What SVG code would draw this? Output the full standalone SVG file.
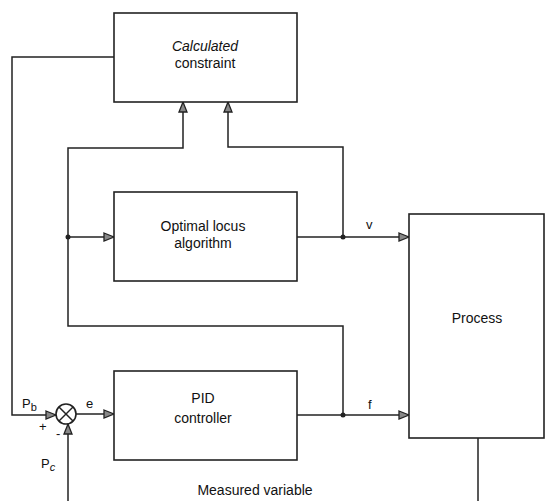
<svg xmlns="http://www.w3.org/2000/svg" width="545" height="501" viewBox="0 0 545 501">
<defs>
<marker id="arr" viewBox="0 0 12 10" refX="11" refY="5" markerWidth="12" markerHeight="10" markerUnits="userSpaceOnUse" orient="auto">
<path d="M1,1 L11,5 L1,9 Z" fill="#888" stroke="#222" stroke-width="1.3" stroke-linejoin="miter"/>
</marker>
</defs>
<style>
.box{fill:#fff;stroke:#222;stroke-width:1.6}
.ln{fill:none;stroke:#222;stroke-width:1.5}
.t{font-family:"Liberation Sans",Arial,sans-serif;font-size:14px;fill:#111;text-anchor:middle}
.s{font-family:"Liberation Sans",Arial,sans-serif;font-size:13px;fill:#111}
.dot{fill:#222}
</style>
<rect width="545" height="501" fill="#fff"/>
<g id="connectors">
<polyline class="ln" points="114,57 12,57 12,415 56,415" marker-end="url(#arr)"/>
<line class="ln" x1="76" y1="414" x2="114" y2="414" marker-end="url(#arr)"/>
<line class="ln" x1="68" y1="501" x2="68" y2="424" marker-end="url(#arr)"/>
<line class="ln" x1="297" y1="415" x2="409" y2="415" marker-end="url(#arr)"/>
<polyline class="ln" points="343,415 343,326 68,326 68,148 183,148 183,102" marker-end="url(#arr)"/>
<line class="ln" x1="68" y1="237" x2="114" y2="237" marker-end="url(#arr)"/>
<line class="ln" x1="297" y1="237" x2="409" y2="237" marker-end="url(#arr)"/>
<polyline class="ln" points="343,237 343,147 228,147 228,102" marker-end="url(#arr)"/>
<line class="ln" x1="478" y1="438" x2="478" y2="501"/>
<circle class="dot" cx="343" cy="415" r="2.5"/>
<circle class="dot" cx="68" cy="237" r="2.5"/>
<circle class="dot" cx="343" cy="237" r="2.5"/>
</g>
<g id="constraint">
<rect class="box" x="114" y="13" width="183" height="89"/>
<text class="t" x="205" y="51" font-style="italic">Calculated</text>
<text class="t" x="205" y="68">constraint</text>
</g>
<g id="optimal">
<rect class="box" x="114" y="192" width="183" height="89"/>
<text class="t" x="203" y="231">Optimal locus</text>
<text class="t" x="203" y="248">algorithm</text>
</g>
<g id="pid">
<rect class="box" x="114" y="371" width="183" height="89"/>
<text class="t" x="203" y="403">PID</text>
<text class="t" x="203" y="423">controller</text>
</g>
<g id="process">
<rect class="box" x="409" y="214" width="135" height="224"/>
<text class="t" x="477" y="323">Process</text>
</g>
<g id="sum">
<circle cx="66" cy="414" r="10" fill="#fff" stroke="#222" stroke-width="1.6"/>
<line class="ln" x1="59" y1="407" x2="73" y2="421"/>
<line class="ln" x1="73" y1="407" x2="59" y2="421"/>
</g>
<g id="labels">
<text class="s" x="22" y="408">P<tspan font-size="11" dy="3">b</tspan></text>
<text class="s" x="39" y="431">+</text>
<text class="s" x="56" y="438">-</text>
<text class="s" x="41" y="468">P<tspan font-size="11" dy="3" font-style="italic">c</tspan></text>
<text class="s" x="86" y="408">e</text>
<text class="s" x="366" y="229">v</text>
<text class="s" x="368" y="409">f</text>
<text class="t" x="255" y="495">Measured variable</text>
</g>
</svg>
